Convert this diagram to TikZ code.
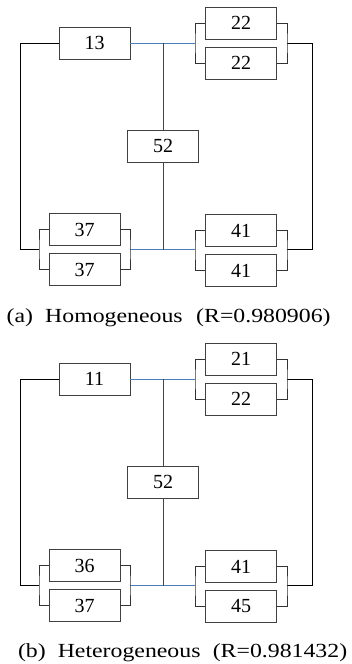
\documentclass[tikz,border=0pt]{standalone}
\usepackage{fontspec}
\setmainfont{Liberation Serif}
\definecolor{boxgray}{HTML}{404040}
\definecolor{linkblue}{HTML}{4A7EBB}
\definecolor{stemgray}{HTML}{454545}
\newcommand{\numfont}{\fontsize{20}{24}\selectfont}
\newcommand{\capfont}{\fontsize{20}{24}\selectfont}
\newcommand{\cpart}[1]{\scalebox{1.19}[1]{#1}}
\tikzset{
  ubox/.style={draw=boxgray, line width=0.95pt, minimum width=71pt, minimum height=32pt, inner sep=0pt, font=\numfont},
  blk/.style={draw=black, line width=0.9pt},
  brk/.style={draw=boxgray!80!black, line width=0.95pt},
  bluel/.style={draw=linkblue, line width=0.9pt},
  stem/.style={draw=stemgray, line width=0.95pt},
  captxt/.style={anchor=base west, inner sep=0pt, font=\capfont}
}
\newcommand{\panel}[9]{%
  % #1 prefix, #2..#8 numbers
  \node[ubox] (#1s) at (94.5,43) {#2};
  \node[ubox] (#1ta) at (241,23) {#3};
  \node[ubox] (#1tb) at (241,63) {#4};
  \node[ubox] (#1m) at (163,146) {52};
  \node[ubox] (#1ba) at (84.5,229.5) {#5};
  \node[ubox] (#1bb) at (84.5,269.5) {#6};
  \node[ubox] (#1ca) at (241,230.5) {#7};
  \node[ubox] (#1cb) at (241,270.5) {#8};
  \coordinate (#1c1) at (20,43);
  \coordinate (#1c2) at (20,249.5);
  \coordinate (#1blL) at (39,249.5);
  \coordinate (#1blR) at (130,249.5);
  \coordinate (#1brL) at (195,249.5);
  \coordinate (#1brR) at (287,249.5);
  \coordinate (#1trL) at (195,43);
  \coordinate (#1trR) at (287,43);
  \coordinate (#1j1) at (163,43);
  \coordinate (#1j2) at (163,249.5);
  \coordinate (#1r1) at (312,43);
  \coordinate (#1r2) at (312,249.5);
  % outer left
  \draw[blk] (#1s.west) -- (#1c1) -- (#1c2) -- (#1blL);
  % outer right
  \draw[blk] (#1trR) -- (#1r1) -- (#1r2) -- (#1brR);
  % blue links
  \draw[bluel] (#1s.east) -- (#1trL);
  \draw[bluel] (#1blR) -- (#1brL);
  % stems
  \draw[stem] (#1j1) -- (#1m.north);
  \draw[stem] (#1m.south) -- (#1j2);
  % brackets
  \draw[brk] (#1ta.west) -| (#1trL) |- (#1tb.west);
  \draw[brk] (#1ta.east) -| (#1trR) |- (#1tb.east);
  \draw[brk] (#1ba.west) -| (#1blL) |- (#1bb.west);
  \draw[brk] (#1ba.east) -| (#1blR) |- (#1bb.east);
  \draw[brk] (#1ca.west) -| (#1brL) |- (#1cb.west);
  \draw[brk] (#1ca.east) -| (#1brR) |- (#1cb.east);
}
\begin{document}
\begin{tikzpicture}[x=1pt,y=-1pt]
  \useasboundingbox (0,0) rectangle (352,664);
  \panel{a}{13}{22}{22}{37}{37}{41}{41}{}
  \node[captxt] (capa1) at (6.5,322) {\cpart{(a)}};
  \node[captxt] (capa2) at (45,322) {\cpart{Homogeneous}};
  \node[captxt] (capa3) at (196,322) {\cpart{(R=0.980906)}};
  \begin{scope}[yshift=-336pt]
    \panel{b}{11}{21}{22}{36}{37}{41}{45}{}
  \end{scope}
  \node[captxt] (capb1) at (17.8,657) {\cpart{(b)}};
  \node[captxt] (capb2) at (57.6,657) {\cpart{Heterogeneous}};
  \node[captxt] (capb3) at (212.6,657) {\cpart{(R=0.981432)}};
\end{tikzpicture}
\end{document}
